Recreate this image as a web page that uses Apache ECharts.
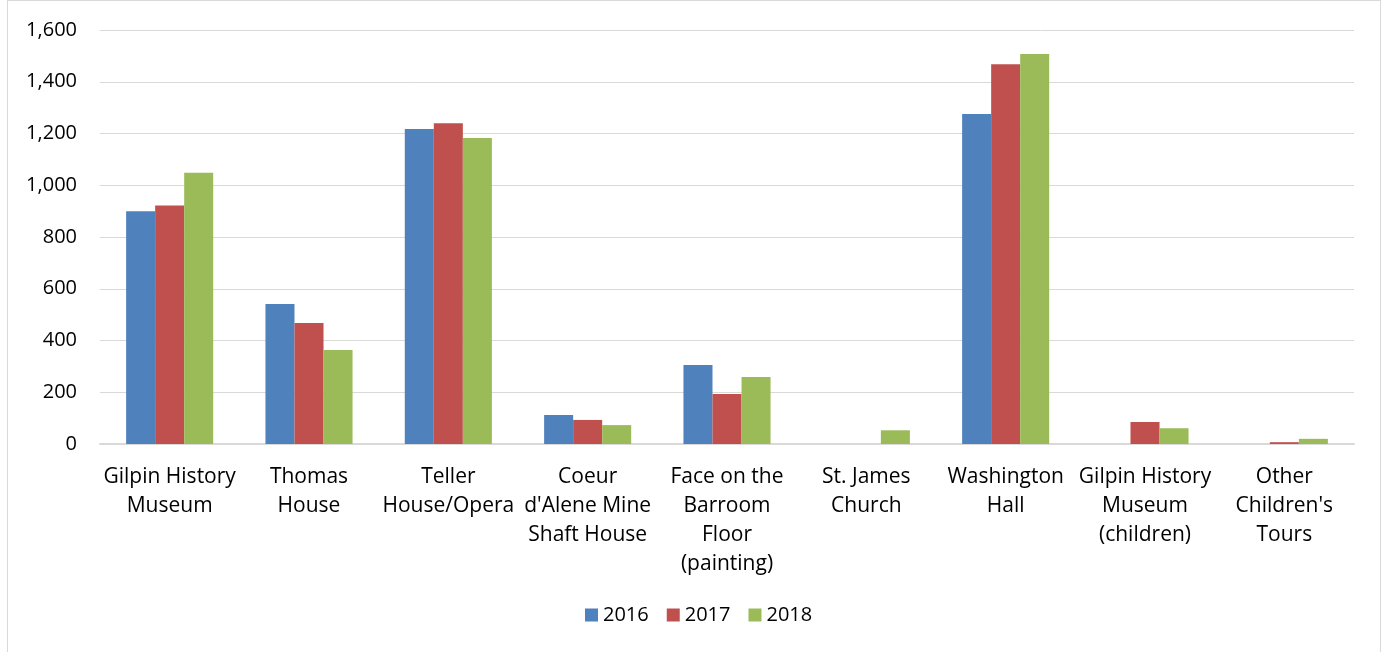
<!DOCTYPE html>
<html><head><meta charset="utf-8">
<script src="https://cdn.jsdelivr.net/npm/echarts@6/dist/echarts.min.js"></script>
<style>
html,body{margin:0;padding:0;background:#fff;}
#frame{position:absolute;left:7px;top:0px;width:1374px;height:660px;border:1px solid #d9d9d9;box-sizing:border-box;}
#chart{position:absolute;left:0;top:0;width:1386px;height:652px;}
</style></head>
<body>
<div id="frame"></div>
<div id="chart"></div>
<script>
const categories = ["Gilpin History\nMuseum","Thomas\nHouse","Teller\nHouse/Opera","Coeur\nd'Alene Mine\nShaft House","Face on the\nBarroom\nFloor\n(painting)","St. James\nChurch","Washington\nHall","Gilpin History\nMuseum\n(children)","Other\nChildren's\nTours"];
const seriesNames = ["2016","2017","2018"];
const v2016 = [900, 541, 1217, 112, 305, 0, 1275, 0, 0];
const v2017 = [922, 468, 1240, 93, 193, 0, 1468, 85, 7];
const v2018 = [1048, 363, 1183, 73, 259, 53, 1507, 61, 20];
const colors = ["#4F81BD","#C0504D","#9BBB59"];
const font = "'Open Sans', Lato, sans-serif";

const chart = echarts.init(document.getElementById('chart'));
const data = [v2016, v2017, v2018];
chart.setOption({
  animation:false,
  textStyle:{fontFamily:font},
  grid:{left:100,right:32,top:30,bottom:208,containLabel:false},
  legend:{
    data:seriesNames, bottom:22, left:580, itemWidth:13, itemHeight:13, itemGap:18,
    icon:'rect', textStyle:{fontSize:20,color:'#000',fontFamily:font}
  },
  xAxis:{
    type:'category', data:categories,
    axisLine:{lineStyle:{color:'#d9d9d9',width:2}},
    axisTick:{show:false},
    axisLabel:{interval:0,fontSize:21,color:'#000',lineHeight:29,margin:19,fontFamily:font}
  },
  yAxis:{
    type:'value', min:0, max:1600, interval:200,
    axisLine:{show:false}, axisTick:{show:false},
    splitLine:{lineStyle:{color:'#d9d9d9',width:1}},
    axisLabel:{fontSize:20,color:'#000',margin:23,fontFamily:font,
      formatter:v=>v.toLocaleString('en-US')}
  },
  series: seriesNames.map((n,i)=>({
    name:n, type:'bar', data:data[i], barGap:'0%', barCategoryGap:'37.5%',
    itemStyle:{color:colors[i]}
  }))
});
</script>
</body></html>
